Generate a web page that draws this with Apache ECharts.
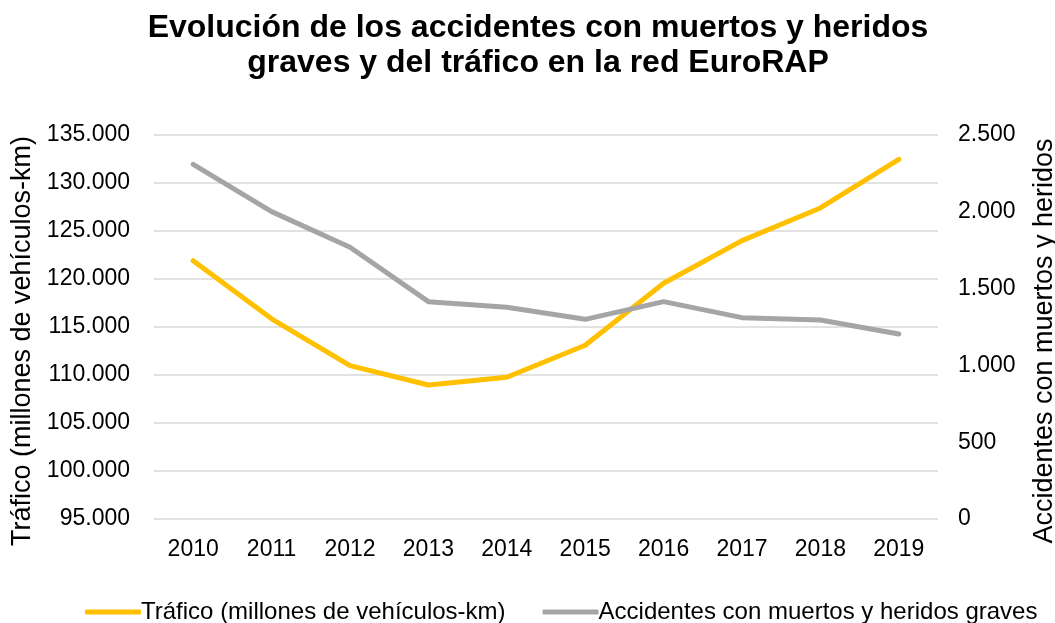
<!DOCTYPE html>
<html>
<head>
<meta charset="utf-8">
<script src="https://cdn.jsdelivr.net/npm/echarts@6/dist/echarts.min.js"></script>
<style>
  html, body { margin: 0; padding: 0; background: #fff; }
  #main { width: 1055px; height: 623px; }
</style>
</head>
<body>
<div id="main"></div>
<script>
  // datos
  var years = ['2010', '2011', '2012', '2013', '2014', '2015', '2016', '2017', '2018', '2019'];
  var trafico = [121900, 115850, 110970, 108960, 109760, 113100, 119550, 124000, 127400, 132470];
  var accidentes = [2309, 2001, 1769, 1415, 1378, 1300, 1415, 1311, 1296, 1204];

  var font = "'Liberation Sans', Arial, sans-serif";

  // separador de miles con punto
  function fmt(v) {
    return String(v).replace(/\B(?=(\d{3})+(?!\d))/g, '.');
  }

  var myChart = echarts.init(document.getElementById('main'));

  var option = {
    animation: false,
    title: {
      text: 'Evolución de los accidentes con muertos y heridos\ngraves y del tráfico en la red EuroRAP',
      left: 533,
      textAlign: 'center',
      top: 6,
      textStyle: {
        fontFamily: font,
        fontSize: 32,
        fontWeight: 'bold',
        color: '#000',
        lineHeight: 35
      }
    },
    legend: {
      top: 595,
      left: 80,
      itemWidth: 56,
      itemHeight: 5,
      itemGap: 37,
      icon: 'roundRect',
      textStyle: { fontFamily: font, fontSize: 24, color: '#000', padding: [0, 0, 0, -5] },
      data: ['Tráfico (millones de vehículos-km)', 'Accidentes con muertos y heridos graves']
    },
    grid: {
      left: 154,
      right: 117,
      top: 135,
      bottom: 104,
      outerBoundsMode: 'none'
    },
    xAxis: {
      type: 'category',
      data: years,
      axisLine: { show: false },
      axisTick: { show: false },
      axisLabel: { fontFamily: font, fontSize: 23, color: '#000', margin: 19 }
    },
    yAxis: [{
      type: 'value',
      min: 95000,
      max: 135000,
      interval: 5000,
      name: 'Tráfico (millones de vehículos-km)',
      nameLocation: 'middle',
      nameGap: 112,
      nameTextStyle: { fontFamily: font, fontSize: 27, color: '#000', padding: [0, 28, 0, 0] },
      axisLine: { show: false },
      axisTick: { show: false },
      axisLabel: { fontFamily: font, fontSize: 23, color: '#000', margin: 24, formatter: fmt },
      splitLine: { lineStyle: { color: '#d9d9d9', width: 1.5 } }
    }, {
      type: 'value',
      min: 0,
      max: 2500,
      interval: 500,
      name: 'Accidentes con muertos y heridos',
      nameLocation: 'middle',
      nameGap: 93,
      nameTextStyle: { fontFamily: font, fontSize: 27, color: '#000', padding: [0, 28, 0, 0] },
      axisLine: { show: false },
      axisTick: { show: false },
      axisLabel: { fontFamily: font, fontSize: 23, color: '#000', margin: 20, formatter: fmt },
      splitLine: { show: false }
    }],
    series: [{
      name: 'Tráfico (millones de vehículos-km)',
      type: 'line',
      yAxisIndex: 0,
      data: trafico,
      symbol: 'none',
      color: '#ffc000',
      lineStyle: { width: 5, cap: 'round', join: 'round' }
    }, {
      name: 'Accidentes con muertos y heridos graves',
      type: 'line',
      yAxisIndex: 1,
      data: accidentes,
      symbol: 'none',
      color: '#a5a5a5',
      lineStyle: { width: 5, cap: 'round', join: 'round' }
    }]
  };

  myChart.setOption(option);
</script>
</body>
</html>
